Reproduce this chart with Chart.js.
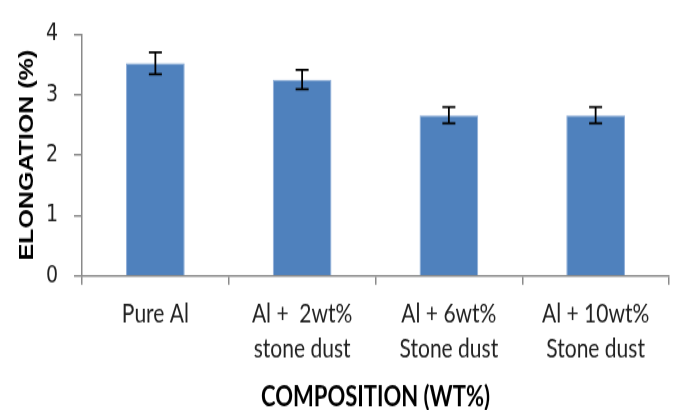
<!DOCTYPE html>
<html>
<head>
<meta charset="utf-8">
<script src="https://cdn.jsdelivr.net/npm/chart.js@4/dist/chart.umd.min.js"></script>
<style>
  html, body { margin: 0; padding: 0; background: #fff; }
</style>
</head>
<body>
<!-- the original picture is stretched vertically, so the bitmap is drawn shorter and scaled up -->
<canvas id="chart" width="679" height="328" style="display:block;width:679px;height:410px"></canvas>
<script>
// Data
const compositions = [
    ['Pure Al'],
    ['Al +  2wt%', 'stone dust'],
    ['Al + 6wt%', 'Stone dust'],
    ['Al + 10wt%', 'Stone dust']
];
const elongation = [3.52, 3.25, 2.66, 2.66];
const elongationError = [0.18, 0.16, 0.135, 0.135];
const yTicks = [0, 1, 2, 3, 4];

const axisGrey = '#8a8a8a';

// Draw error bars on top of each bar
const errorBars = {
    id: 'errorBars',
    afterDatasetsDraw(chart) {
        const ctx = chart.ctx;
        const y = chart.scales.y;
        const meta = chart.getDatasetMeta(0);
        ctx.save();
        ctx.strokeStyle = '#000';
        ctx.lineWidth = 1.8;
        meta.data.forEach((bar, i) => {
            const top = y.getPixelForValue(elongation[i] + elongationError[i]);
            const bottom = y.getPixelForValue(elongation[i] - elongationError[i]);
            const x = bar.x;
            ctx.beginPath();
            ctx.moveTo(x, top);
            ctx.lineTo(x, bottom);
            ctx.moveTo(x - 6.5, top);
            ctx.lineTo(x + 6.5, top);
            ctx.moveTo(x - 6.5, bottom);
            ctx.lineTo(x + 6.5, bottom);
            ctx.stroke();
        });
        ctx.restore();
    }
};

const ctx = document.getElementById('chart').getContext('2d');

new Chart(ctx, {
    type: 'bar',
    data: {
        labels: compositions,
        datasets: [{
            data: elongation,
            backgroundColor: '#4F81BD',
            borderColor: '#8FAED8',
            borderWidth: 1,
            categoryPercentage: 1,
            barPercentage: 0.4
        }]
    },
    options: {
        responsive: false,
        animation: false,
        devicePixelRatio: 1,
        layout: { padding: { top: 18, right: 10, left: 0, bottom: 0 } },
        plugins: {
            legend: { display: false },
            tooltip: { enabled: false }
        },
        scales: {
            x: {
                afterFit: (scale) => { scale.height = 107.2; },
                border: { color: axisGrey, width: 1.5 },
                grid: {
                    drawOnChartArea: false,
                    color: axisGrey,
                    lineWidth: 1.5,
                    tickLength: 7
                },
                ticks: {
                    color: '#222',
                    padding: 10,
                    maxRotation: 0,
                    font: { family: 'Lato', size: 21, lineHeight: 1.3 }
                },
                title: {
                    display: true,
                    text: 'COMPOSITION (WT%)',
                    color: '#000',
                    padding: { top: 0, bottom: 0 },
                    font: { family: 'Lato', size: 22, weight: 'bold', lineHeight: 0.9 }
                }
            },
            y: {
                min: 0,
                max: 4,
                afterFit: (scale) => { scale.width = 82; },
                afterBuildTicks: (scale) => { scale.ticks = yTicks.map(v => ({ value: v })); },
                border: { color: axisGrey, width: 1.5 },
                grid: {
                    drawOnChartArea: false,
                    color: axisGrey,
                    lineWidth: 1.5,
                    tickLength: 8
                },
                ticks: {
                    color: '#222',
                    padding: 16,
                    font: { family: 'DejaVu Sans', size: 19 }
                },
                title: {
                    display: true,
                    text: 'ELONGATION (%)',
                    color: '#000',
                    padding: { top: 15, bottom: 0 },
                    font: { family: 'Liberation Sans', size: 20, weight: 'bold', lineHeight: 1.2 }
                }
            }
        }
    },
    plugins: [errorBars]
});
</script>
</body>
</html>
